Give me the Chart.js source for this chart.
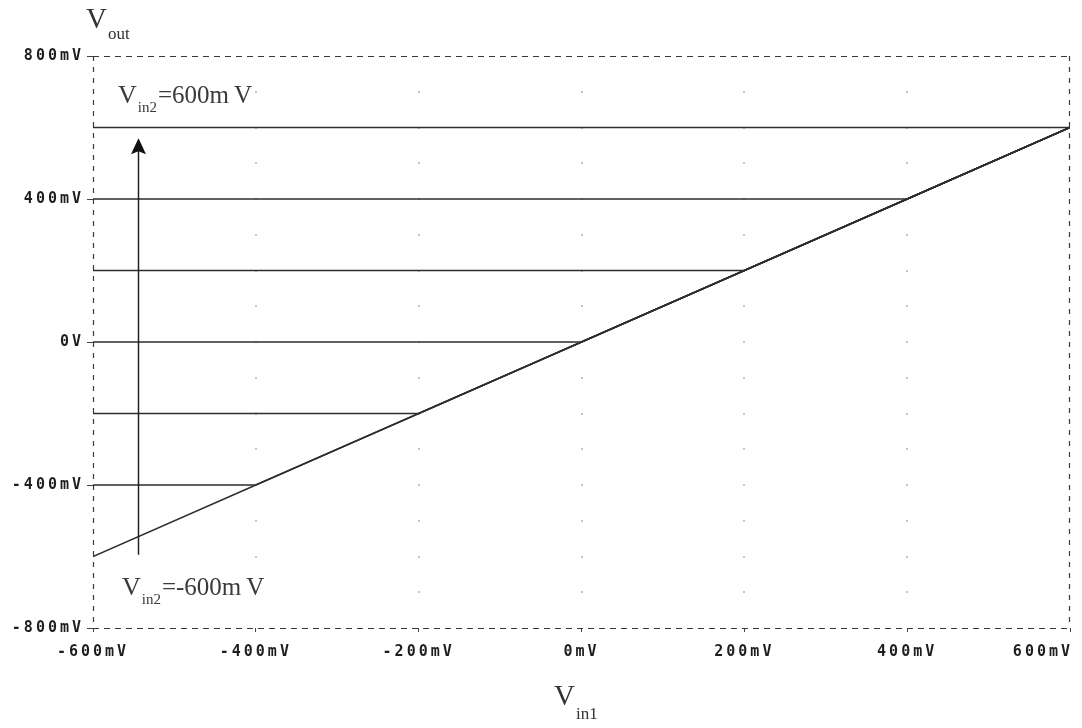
<!DOCTYPE html>
<html>
<head>
<meta charset="utf-8">
<script src="https://cdn.jsdelivr.net/npm/chart.js@4/dist/chart.umd.min.js"></script>
<style>
  html, body { margin: 0; padding: 0; background: #ffffff; }
  #wrap { width: 1082px; height: 728px; position: relative; }
</style>
</head>
<body>
<div id="wrap"><canvas id="c" width="1082" height="728"></canvas></div>
<script>
// Input sweep V_in1 (mV) at the breakpoints of each transfer curve
const vin1 = [-600, -400, -200, 0, 200, 400, 600];

// Output V_out (mV) for each V_in2 setting
const voutVin2p600 = [600, 600, 600, 600, 600, 600, 600];
const voutVin2p400 = [400, 400, 400, 400, 400, 400, 600];
const voutVin2p200 = [200, 200, 200, 200, 200, 400, 600];
const voutVin2z000 = [0, 0, 0, 0, 200, 400, 600];
const voutVin2m200 = [-200, -200, -200, 0, 200, 400, 600];
const voutVin2m400 = [-400, -400, -200, 0, 200, 400, 600];
const voutVin2m600 = [-600, -400, -200, 0, 200, 400, 600];

const seriesList = [voutVin2p600, voutVin2p400, voutVin2p200, voutVin2z000, voutVin2m200, voutVin2m400, voutVin2m600];

// Axis ticks (mV)
const xTicks = [-600, -400, -200, 0, 200, 400, 600];
const yTicks = [-800, -400, 0, 400, 800];

// Faint grid dots (mV)
const dotX = [-400, -200, 0, 200, 400];
const dotY = [-700, -600, -500, -400, -300, -200, -100, 0, 100, 200, 300, 400, 500, 600, 700];

// Sweep direction arrow: V_in2 stepping from -600 mV to 600 mV
const arrowVin1 = -545;
const arrowFrom = -595;
const arrowTo = 570;

const ink = '#2e2e2e';

const datasets = seriesList.map(vals => ({
  data: vin1.map((x, i) => ({ x: x, y: vals[i] })),
  showLine: true,
  borderColor: ink,
  borderWidth: 1.5,
  pointRadius: 0,
  tension: 0,
  fill: false
}));

function drawSubLabel(ctx, x, base, main, sub, rest, mainSize, subSize, restSize, subDrop) {
  ctx.font = mainSize + 'px "Liberation Serif", "DejaVu Serif", serif';
  ctx.fillText(main, x, base);
  x += ctx.measureText(main).width + 1;
  ctx.font = subSize + 'px "Liberation Serif", "DejaVu Serif", serif';
  ctx.fillText(sub, x, base + subDrop);
  x += ctx.measureText(sub).width + 1;
  if (rest) {
    ctx.font = restSize + 'px "Liberation Serif", "DejaVu Serif", serif';
    ctx.fillText(rest, x, base);
  }
}

const plotDecor = {
  id: 'plotDecor',
  beforeDraw(chart) {
    // wide spacing for the axis tick labels
    chart.ctx.letterSpacing = '3px';
    // keep the last x label inside the canvas, ending at its tick
    const xs = chart.scales.x;
    const items = xs.getLabelItems(chart.chartArea);
    const last = items[items.length - 1];
    if (last && last.options.textAlign !== 'right') {
      last.options.textAlign = 'right';
      last.options.translation = [xs.getPixelForValue(xTicks[xTicks.length - 1]) + 3, last.options.translation[1]];
    }
  },
  beforeDatasetsDraw(chart) {
    const { ctx, chartArea: a, scales: { x, y } } = chart;
    ctx.save();
    ctx.letterSpacing = '0px';
    // dashed plot frame
    ctx.strokeStyle = '#3a3a3a';
    ctx.lineWidth = 1.2;
    ctx.setLineDash([6, 5]);
    ctx.beginPath();
    ctx.moveTo(a.left, a.top + 0.5);
    ctx.lineTo(a.right, a.top + 0.5);
    ctx.moveTo(a.left, a.bottom + 0.5);
    ctx.lineTo(a.right, a.bottom + 0.5);
    ctx.stroke();
    ctx.setLineDash([5, 6]);
    ctx.beginPath();
    ctx.moveTo(a.left + 0.5, a.top);
    ctx.lineTo(a.left + 0.5, a.bottom);
    ctx.moveTo(a.right - 0.5, a.top);
    ctx.lineTo(a.right - 0.5, a.bottom);
    ctx.stroke();
    ctx.setLineDash([]);
    // grid dots
    ctx.fillStyle = '#c4c4c4';
    dotX.forEach(vx => {
      dotY.forEach(vy => {
        const px = x.getPixelForValue(vx);
        const py = y.getPixelForValue(vy);
        ctx.fillRect(Math.round(px) - 1, Math.round(py) - 1, 2, 2);
      });
    });
    ctx.restore();
  },
  afterDraw(chart) {
    const { ctx, scales: { x, y } } = chart;
    ctx.save();
    ctx.letterSpacing = '0px';

    // sweep arrow
    const ax = Math.round(x.getPixelForValue(arrowVin1)) + 0.5;
    const yFrom = y.getPixelForValue(arrowFrom);
    const yTip = y.getPixelForValue(arrowTo);
    ctx.strokeStyle = '#222';
    ctx.lineWidth = 1.5;
    ctx.beginPath();
    ctx.moveTo(ax, yFrom);
    ctx.lineTo(ax, yTip + 12);
    ctx.stroke();
    ctx.fillStyle = '#111';
    ctx.beginPath();
    ctx.moveTo(ax, yTip);
    ctx.lineTo(ax - 7.5, yTip + 16);
    ctx.lineTo(ax, yTip + 13);
    ctx.lineTo(ax + 7.5, yTip + 16);
    ctx.closePath();
    ctx.fill();

    // axis titles and curve labels
    ctx.fillStyle = '#333';
    ctx.textAlign = 'left';
    ctx.textBaseline = 'alphabetic';
    drawSubLabel(ctx, 86, 28, 'V', 'out', '', 29, 17, 0, 11);
    drawSubLabel(ctx, 554, 705, 'V', 'in1', '', 29, 17, 0, 14);
    ctx.fillStyle = '#3a3a3a';
    drawSubLabel(ctx, 118, 103, 'V', 'in2', '=600m\u2009V', 26, 15, 25, 9);
    drawSubLabel(ctx, 122, 595, 'V', 'in2', '=-600m\u2009V', 26, 15, 25, 9);
    ctx.restore();
  }
};

const tickFont = { family: '"DejaVu Sans Mono", "Liberation Mono", monospace', size: 15, weight: 'bold' };

function mvLabel(v, zeroText) {
  return v === 0 ? zeroText : v + 'mV';
}

function noOverflow(s) {
  s.paddingLeft = 0;
  s.paddingRight = 0;
  s.paddingTop = 0;
  s.paddingBottom = 0;
}

new Chart(document.getElementById('c'), {
  type: 'scatter',
  data: { datasets: datasets },
  plugins: [plotDecor],
  options: {
    responsive: false,
    animation: false,
    devicePixelRatio: 1,
    layout: { padding: { top: 56, right: 12, left: 0, bottom: 0 } },
    plugins: { legend: { display: false }, tooltip: { enabled: false } },
    scales: {
      x: {
        type: 'linear',
        min: -600,
        max: 600,
        afterBuildTicks(s) { s.ticks = xTicks.map(v => ({ value: v })); },
        afterFit(s) { s.height = 100; noOverflow(s); },
        ticks: {
          font: tickFont,
          color: '#1e1e1e',
          padding: 11,
          maxRotation: 0,
          autoSkip: false,
          callback: v => mvLabel(v, '0mV')
        },
        grid: { drawOnChartArea: false, drawTicks: true, tickLength: 4, color: '#444', lineWidth: 1 },
        border: { display: false }
      },
      y: {
        type: 'linear',
        min: -800,
        max: 800,
        afterBuildTicks(s) { s.ticks = yTicks.map(v => ({ value: v })); },
        afterFit(s) { s.width = 93; noOverflow(s); },
        ticks: {
          font: tickFont,
          color: '#1e1e1e',
          padding: 3,
          autoSkip: false,
          callback: v => mvLabel(v, '0V')
        },
        grid: { drawOnChartArea: false, drawTicks: true, tickLength: 6, color: '#444', lineWidth: 1 },
        border: { display: false }
      }
    }
  }
});
</script>
</body>
</html>
